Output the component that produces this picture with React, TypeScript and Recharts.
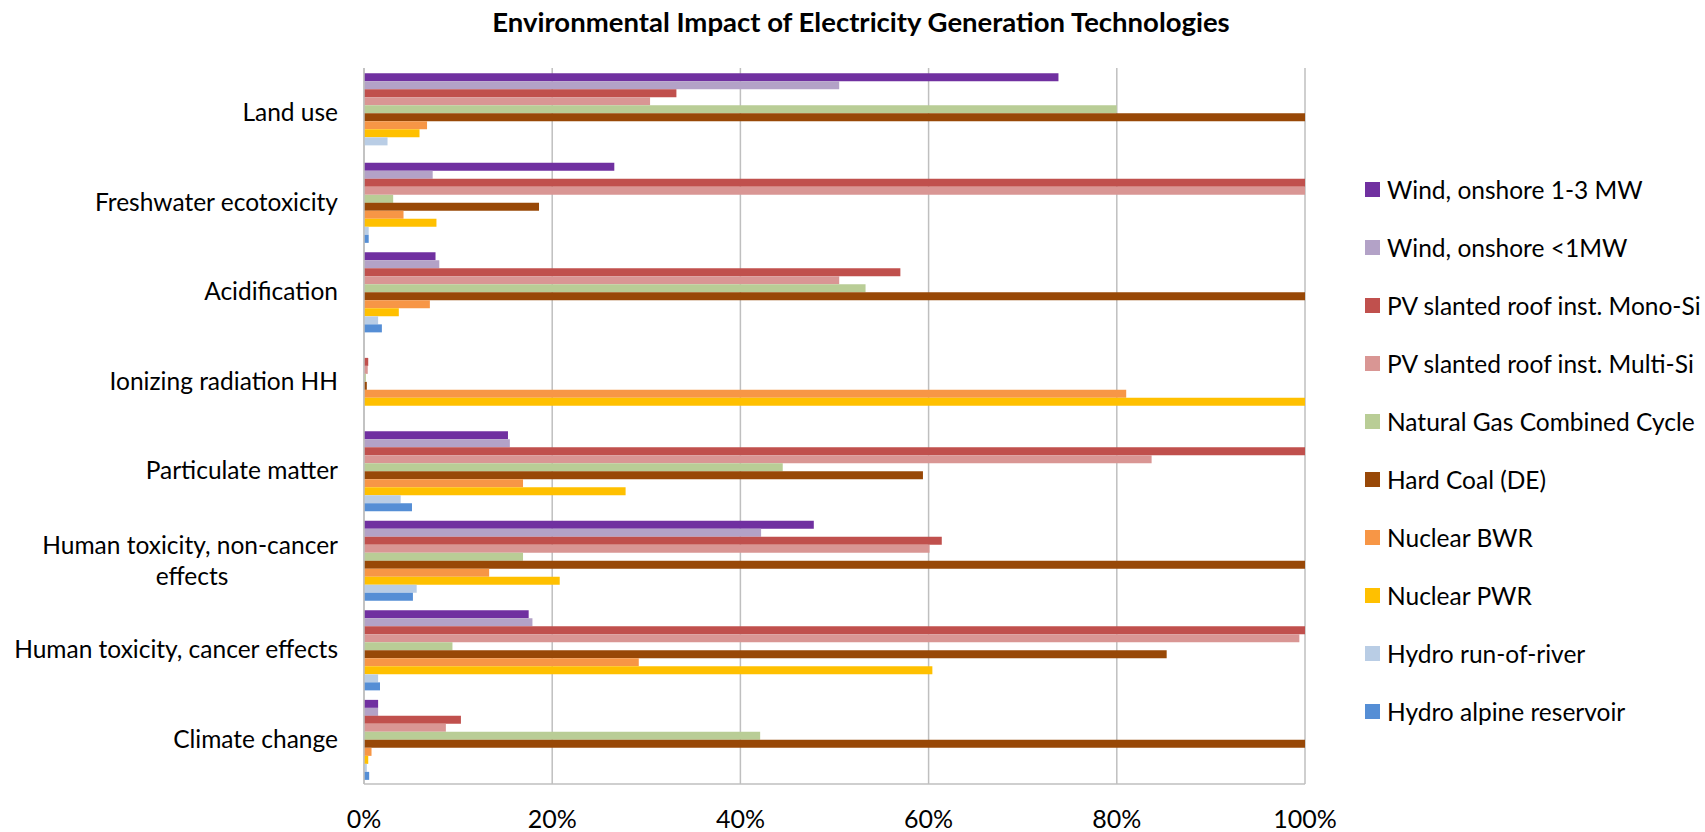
import { Bar, BarChart, CartesianGrid, XAxis, YAxis } from "recharts";

const FONT = "Lato, 'Noto Sans', sans-serif";

const CATEGORIES = [
  "Land use",
  "Freshwater ecotoxicity",
  "Acidification",
  "Ionizing radiation HH",
  "Particulate matter",
  "Human toxicity, non-cancer effects",
  "Human toxicity, cancer effects",
  "Climate change",
];

// share of the worst technology per impact category, in %
const WIND_1_3 = [73.8, 26.6, 7.6, 0, 15.3, 47.8, 17.5, 1.5];
const WIND_LT1 = [50.5, 7.3, 8.0, 0, 15.5, 42.2, 17.9, 1.5];
const PV_MONO = [33.2, 100, 57.0, 0.45, 100, 61.4, 100, 10.3];
const PV_MULTI = [30.4, 100, 50.5, 0.4, 83.7, 60.1, 99.4, 8.7];
const NGCC = [80.0, 3.1, 53.3, 0.2, 44.5, 16.9, 9.4, 42.1];
const HARD_COAL = [100, 18.6, 100, 0.3, 59.4, 100, 85.3, 100];
const NUCLEAR_BWR = [6.7, 4.2, 7.0, 81.0, 16.9, 13.3, 29.2, 0.8];
const NUCLEAR_PWR = [5.9, 7.7, 3.7, 100, 27.8, 20.8, 60.4, 0.45];
const HYDRO_RIVER = [2.5, 0.5, 1.5, 0, 3.9, 5.6, 1.5, 0.3];
const HYDRO_ALPINE = [0, 0.5, 1.9, 0, 5.1, 5.2, 1.7, 0.55];

const X_TICKS = [0, 20, 40, 60, 80, 100];

const SERIES = [
  { key: "Wind, onshore 1-3 MW", values: WIND_1_3, color: "#7030A0" },
  { key: "Wind, onshore <1MW", values: WIND_LT1, color: "#B3A2C7" },
  { key: "PV slanted roof inst. Mono-Si", values: PV_MONO, color: "#C0504D" },
  { key: "PV slanted roof inst. Multi-Si", values: PV_MULTI, color: "#D99694" },
  { key: "Natural Gas Combined Cycle", values: NGCC, color: "#B9CD96" },
  { key: "Hard Coal (DE)", values: HARD_COAL, color: "#984807" },
  { key: "Nuclear BWR", values: NUCLEAR_BWR, color: "#F79646" },
  { key: "Nuclear PWR", values: NUCLEAR_PWR, color: "#FFC000" },
  { key: "Hydro run-of-river", values: HYDRO_RIVER, color: "#B9CDE5" },
  { key: "Hydro alpine reservoir", values: HYDRO_ALPINE, color: "#558ED5" },
];

const rows = CATEGORIES.map((category, i) => {
  const row: Record<string, string | number> = { category };
  SERIES.forEach((s) => {
    row[s.key] = s.values[i];
  });
  return row;
});

function CategoryTick(props: any) {
  const { x, y, payload } = props;
  const label: string = payload.value;
  const right = x - 18;
  if (label.length <= 30) {
    return (
      <text x={right} y={y} dy="0.35em" textAnchor="end" fontSize={24.5} fill="#000" fontFamily={FONT}>
        {label}
      </text>
    );
  }
  // long labels wrap onto a second, centred line like in Excel
  const cut = label.lastIndexOf(" ", 30);
  const first = label.slice(0, cut);
  const second = label.slice(cut + 1);
  return (
    <text fontSize={24.5} fill="#000" fontFamily={FONT}>
      <tspan x={right} y={y - 15} dy="0.35em" textAnchor="end">
        {first}
      </tspan>
      <tspan x={192} y={y + 16} dy="0.35em" textAnchor="middle">
        {second}
      </tspan>
    </text>
  );
}

function LegendList() {
  return (
    <div style={{ position: "absolute", top: 160, left: 1365, fontFamily: FONT, fontSize: 24.5, color: "#000" }}>
      {SERIES.map((s) => (
        <div key={s.key} style={{ display: "flex", alignItems: "center", height: 58.1 }}>
          <span style={{ width: 15, height: 15, background: s.color, marginRight: 7, flexShrink: 0 }} />
          <span style={{ whiteSpace: "nowrap" }}>{s.key}</span>
        </div>
      ))}
    </div>
  );
}

export default function App() {
  return (
    <div style={{ position: "absolute", left: 0, top: 0, width: 1705, height: 832, background: "#fff" }}>
      <div
        style={{
          position: "absolute",
          top: 5,
          left: 0,
          width: 1705,
          paddingLeft: 17,
          boxSizing: "border-box",
          textAlign: "center",
          fontFamily: FONT,
          fontWeight: 700,
          fontSize: 27.5,
          color: "#000",
        }}
      >
        Environmental Impact of Electricity Generation Technologies
      </div>
      <BarChart
        width={1705}
        height={832}
        data={rows}
        layout="vertical"
        margin={{ top: 68, right: 400, bottom: 0, left: 0 }}
        barCategoryGap="6%"
        barGap={0}
      >
        <CartesianGrid horizontal={false} stroke="#BFBFBF" strokeWidth={1.5} />
        <XAxis
          type="number"
          domain={[0, 100]}
          ticks={X_TICKS}
          tickFormatter={(v) => `${v}%`}
          axisLine={{ stroke: "#BFBFBF", strokeWidth: 1.5 }}
          tickLine={false}
          tickMargin={20}
          height={48}
          tick={{ fontSize: 25, fill: "#000", fontFamily: FONT }}
        />
        <YAxis
          type="category"
          dataKey="category"
          width={364}
          interval={0}
          axisLine={{ stroke: "#BFBFBF", strokeWidth: 1.5 }}
          tickLine={false}
          tick={<CategoryTick />}
        />
        {SERIES.map((s) => (
          <Bar key={s.key} dataKey={s.key} fill={s.color} isAnimationActive={false} />
        ))}
      </BarChart>
      <LegendList />
    </div>
  );
}
